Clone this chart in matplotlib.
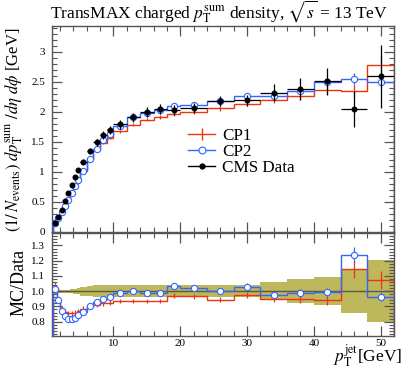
import matplotlib
matplotlib.use("Agg")
import matplotlib.pyplot as plt
import numpy as np
from matplotlib.ticker import MultipleLocator, FuncFormatter
from matplotlib.lines import Line2D

plt.rcParams['font.family'] = ['Liberation Serif', 'DejaVu Serif']
plt.rcParams['mathtext.fontset'] = 'stix'

# ---- data ----
bin_edges = [1, 1.5, 2, 2.5, 3, 3.5, 4, 4.5, 5, 6, 7, 8, 9, 10, 12, 14, 16, 18, 20,
             24, 28, 32, 36, 40, 44, 48, 52]
cms_data = [0.14, 0.25, 0.37, 0.52, 0.65, 0.78, 0.92, 1.03, 1.17, 1.35, 1.49, 1.61, 1.69,
            1.79, 1.91, 2.00, 2.05, 2.03, 2.07, 2.18, 2.19, 2.32, 2.38, 2.51, 2.05, 2.59]
cms_err = [0.003, 0.003, 0.004, 0.005, 0.007, 0.009, 0.014, 0.021, 0.035, 0.047, 0.057, 0.061,
           0.066, 0.072, 0.076, 0.080, 0.082, 0.081, 0.083, 0.087, 0.088, 0.139, 0.190,
           0.226, 0.297, 0.531]
cp1 = [0.144, 0.235, 0.329, 0.450, 0.556, 0.667, 0.791, 0.896, 1.035, 1.215, 1.356, 1.481,
       1.563, 1.674, 1.786, 1.870, 1.917, 1.969, 1.998, 2.060, 2.135, 2.204, 2.261, 2.359,
       2.343, 2.784]
cp1_err = [0.004, 0.005, 0.006, 0.008, 0.01, 0.012, 0.014, 0.016, 0.018, 0.02, 0.022, 0.024,
           0.025, 0.027, 0.028, 0.03, 0.032, 0.034, 0.035, 0.04, 0.045, 0.05, 0.06, 0.07,
           0.11, 0.15]
cp2 = [0.142, 0.235, 0.323, 0.434, 0.532, 0.639, 0.760, 0.866, 1.014, 1.215, 1.386, 1.525,
       1.631, 1.767, 1.910, 1.980, 2.023, 2.097, 2.116, 2.180, 2.256, 2.269, 2.349, 2.492,
       2.542, 2.499]
cp2_err = [0.004, 0.005, 0.006, 0.008, 0.01, 0.012, 0.014, 0.016, 0.018, 0.02, 0.022, 0.024,
           0.025, 0.027, 0.028, 0.03, 0.032, 0.034, 0.035, 0.04, 0.045, 0.05, 0.06, 0.07,
           0.10, 0.08]

edges = np.array(bin_edges)
centers = 0.5 * (edges[1:] + edges[:-1])
halfw = 0.5 * (edges[1:] - edges[:-1])
d = np.array(cms_data); de = np.array(cms_err)
m1 = np.array(cp1); m1e = np.array(cp1_err)
m2 = np.array(cp2); m2e = np.array(cp2_err)

RED = '#EE3311'
BLUE = '#3366FF'
BAND = '#BDB85C'
FRAME = '#555555'

W, H = 407, 369
fig = plt.figure(figsize=(W / 100, H / 100), dpi=100)
L, R = 52 / W, 394 / W
ax = fig.add_axes([L, 1 - 231.7 / H, R - L, (231.7 - 26) / H])
axr = fig.add_axes([L, 1 - 336 / H, R - L, (336 - 232.5) / H])

# ---- main panel ----
ax.stairs(m1, edges, color=RED, lw=1.0, zorder=2)
ax.errorbar(centers, m1, yerr=m1e, fmt='none', ecolor=RED, elinewidth=0.9, zorder=2)
ax.stairs(m2, edges, color=BLUE, lw=1.0, zorder=3)
ax.errorbar(centers, m2, yerr=m2e, fmt='o', color=BLUE, ms=4.5, mfc='white', mec=BLUE,
            mew=0.8, elinewidth=0.9, zorder=3)
ax.errorbar(centers, d, xerr=halfw, yerr=de, fmt='o', color='black', ms=3.3,
            elinewidth=0.9, zorder=4)

ax.set_xlim(0.8, 52)
ax.set_ylim(0, 3.43)

handles = [
    Line2D([], [], color=RED, lw=1.0, marker='|', ms=8, mew=1.0),
    Line2D([], [], color=BLUE, lw=1.0, marker='o', ms=5, mfc='white', mec=BLUE, mew=0.8),
    Line2D([], [], color='black', lw=1.0, marker='o', ms=3.5),
]
leg = ax.legend(handles, ['CP1', 'CP2', 'CMS Data'], loc='upper left',
                bbox_to_anchor=(0.398, 0.505), frameon=False, fontsize=12.3,
                handlelength=1.6, handletextpad=0.4, labelspacing=0.0,
                borderpad=0.0, borderaxespad=0.0)

# ---- ratio panel ----
rel = de / d
axr.stairs(1 + rel, edges, baseline=1 - rel, fill=True, color=BAND, lw=0, zorder=1)
axr.axhline(1.0, color='#5a5a40', lw=1.0, zorder=2)
r1 = m1 / d; r1e = m1e / d
r2 = m2 / d; r2e = m2e / d
axr.stairs(r1, edges, color=RED, lw=1.0, zorder=3)
axr.errorbar(centers, r1, yerr=r1e, fmt='none', ecolor=RED, elinewidth=0.9, zorder=3)
axr.stairs(r2, edges, color=BLUE, lw=1.0, zorder=4)
axr.errorbar(centers, r2, yerr=r2e, fmt='o', color=BLUE, ms=4.5, mfc='white', mec=BLUE,
             mew=0.8, elinewidth=0.9, zorder=4)
axr.set_xlim(0.8, 52)
axr.set_ylim(0.706, 1.385)

# ---- ticks and frame ----
for a in (ax, axr):
    a.xaxis.set_major_locator(MultipleLocator(10))
    a.xaxis.set_minor_locator(MultipleLocator(2))
    a.tick_params(which='both', direction='in', top=True, right=True, colors=FRAME,
                  labelcolor='black', labelsize=8)
    a.tick_params(which='major', length=7, width=0.9)
    a.tick_params(which='minor', length=3.5, width=0.8)
    for s in a.spines.values():
        s.set_color(FRAME)
        s.set_linewidth(1.0)

ax.yaxis.set_major_locator(MultipleLocator(0.5))
ax.yaxis.set_minor_locator(MultipleLocator(0.1))
ax.yaxis.set_major_formatter(FuncFormatter(lambda v, p: '%g' % v))
ax.tick_params(labelbottom=False, pad=5)
axr.yaxis.set_major_locator(MultipleLocator(0.1))
axr.yaxis.set_minor_locator(MultipleLocator(0.02))
axr.yaxis.set_major_formatter(FuncFormatter(lambda v, p: '%.1f' % v))
axr.tick_params(axis='x', pad=2)
axr.tick_params(axis='y', pad=5)

# ---- texts ----
fig.text(50 / W, 1 - 12 / H, r'TransMAX charged $p_\mathrm{T}^\mathrm{sum}$ density, $\sqrt{s}$ = 13 TeV',
         ha='left', va='center', fontsize=12.5)
fig.text(14 / W, 1 - 27 / H,
         r'$\left(1/\,N_\mathrm{events}\right)\ dp_\mathrm{T}^\mathrm{sum}\ /d\eta\ d\phi$ [GeV]',
         rotation=90, ha='center', va='top', fontsize=12)
fig.text(19 / W, 1 - 282 / H, 'MC/Data', rotation=90, ha='center', va='center', fontsize=13)
fig.text(402 / W, 1 - 362 / H, r'$p_\mathrm{T}^\mathrm{jet}$[GeV]', ha='right', va='baseline',
         fontsize=12.5)

fig.savefig('out.png', dpi=100)
